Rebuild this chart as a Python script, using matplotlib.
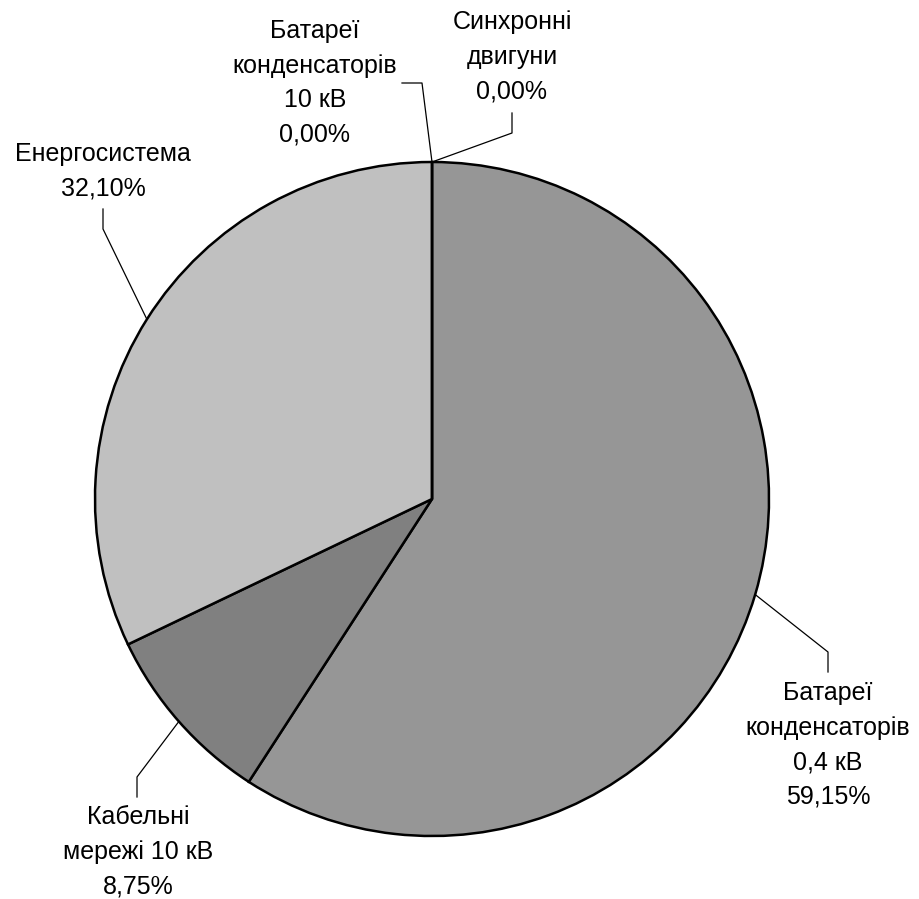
import numpy as np
import matplotlib.pyplot as plt

plt.rcParams['font.family'] = ['Liberation Sans', 'DejaVu Sans']

# Data (order clockwise from 12 o'clock)
labels = ['Синхронні\nдвигуни', 'Батареї\nконденсаторів\n0,4 кВ', 'Кабельні\nмережі 10 кВ',
          'Енергосистема', 'Батареї\nконденсаторів\n10 кВ']
values = [0.00, 59.15, 8.75, 32.10, 0.00]
colors = ['#969696', '#969696', '#808080', '#C0C0C0', '#C0C0C0']

# label layout: (elbow x, elbow y, end x, end y, text x, text y) in pixels of the picture
cx, cy, R = 432, 499, 337
layout = [
    (512, 133, 512, 113, 512, 57),
    (828, 652, 828, 672, 828, 745),
    (137, 777, 137, 797, 138, 852),
    (103, 229, 103, 209, 103, 171),
    (422, 83, 402, 83, 315, 83),
]

def to_data(px, py):
    return (px - cx) / R, (cy - py) / R

fig = plt.figure(figsize=(9.2, 8.99), dpi=100)
ax = fig.add_axes([(cx - R) / 920, (899 - cy - R) / 899, 2 * R / 920, 2 * R / 899])
wedges, _ = ax.pie(values, colors=colors, startangle=90, counterclock=False,
                   radius=1, wedgeprops=dict(edgecolor='black', linewidth=1.8))
ax.set_xlim(-1, 1)
ax.set_ylim(-1, 1)
ax.set_aspect('equal')
ax.axis('off')

for w, lab, v, lay in zip(wedges, labels, values, layout):
    ang = np.deg2rad((w.theta1 + w.theta2) / 2)
    x0, y0 = np.cos(ang), np.sin(ang)
    ex, ey = to_data(lay[0], lay[1])
    fx, fy = to_data(lay[2], lay[3])
    tx, ty = to_data(lay[4], lay[5])
    ax.plot([x0, ex, fx], [y0, ey, fy], color='black', linewidth=0.9, clip_on=False)
    txt = lab + '\n' + f'{v:.2f}'.replace('.', ',') + '%'
    ax.text(tx, ty, txt, ha='center', va='center', multialignment='center',
            fontsize=18, linespacing=1.56, clip_on=False)

fig.savefig('out.png', dpi=100, facecolor='white')
